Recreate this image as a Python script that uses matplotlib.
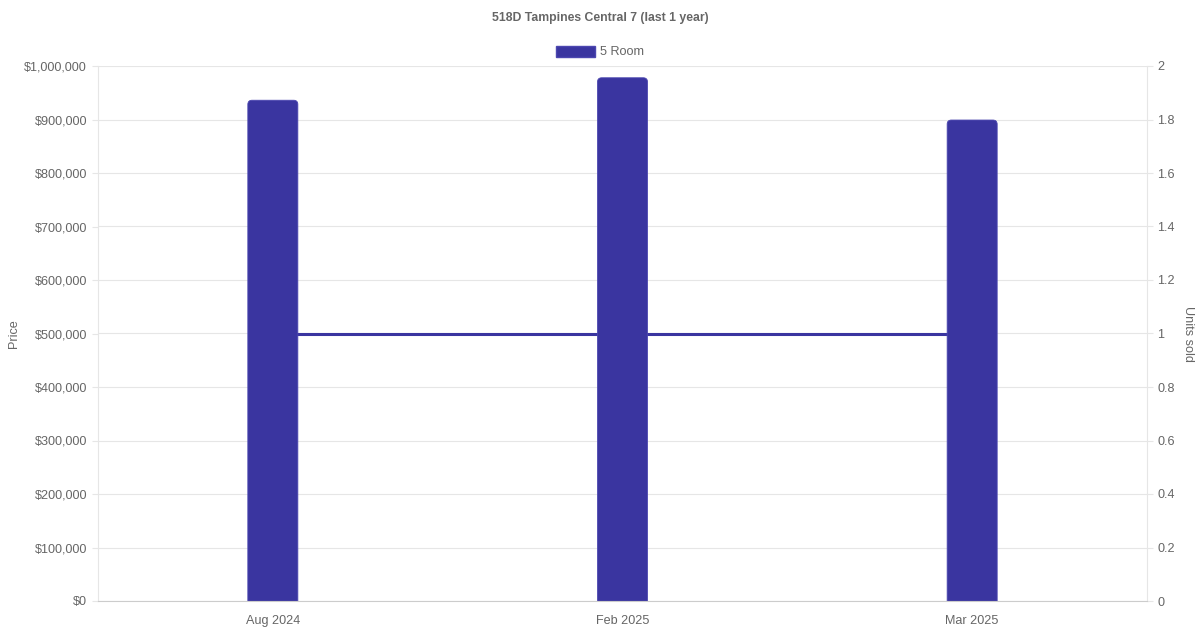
import matplotlib
matplotlib.use('Agg')
import matplotlib.pyplot as plt
from matplotlib.patches import FancyBboxPatch
from matplotlib.ticker import FuncFormatter, MultipleLocator

months = ['Aug 2024', 'Feb 2025', 'Mar 2025']
prices = [936000, 978000, 899000]   # 5 Room, средняя цена
units = [1, 1, 1]                   # продано квартир

bar_col = '#3a35a0'
txt_col = '#666666'
grid_col = '#e6e6e6'

plt.rcParams['font.family'] = ['Liberation Sans', 'DejaVu Sans']
fs = 9.1

fig = plt.figure(figsize=(12, 6.3), dpi=100)
ax = fig.add_axes([98/1200, 1 - 601/630, (1147 - 98)/1200, (601 - 66)/630])
ax2 = ax.twinx()

# бары поверх линии
ax.set_zorder(ax2.get_zorder() + 1)
ax.patch.set_visible(False)

x = [i + 0.5 for i in range(len(months))]
bars = ax.bar(x, prices, width=0.143, color=bar_col)
# скругляем верхние углы
for b in bars:
    bx, by = b.get_x(), b.get_y()
    w, h = b.get_width(), b.get_height()
    b.set_visible(False)
    r = 0.012
    asp = 653600
    p = FancyBboxPatch((bx, by - 20000), w, h + 20000,
                       boxstyle='round,pad=0,rounding_size=%f' % r,
                       mutation_aspect=asp, fc=bar_col, ec='#4c47b0', lw=0.6)
    ax.add_patch(p)

ax2.plot(x, units, color=bar_col, lw=2.2, solid_capstyle='butt')

ax.set_xlim(0, 3)
ax.set_ylim(0, 1000000)
ax2.set_ylim(0, 2)
ax.yaxis.set_major_locator(MultipleLocator(100000))
ax2.yaxis.set_major_locator(MultipleLocator(0.2))
ax.yaxis.set_major_formatter(FuncFormatter(lambda v, p: '${:,.0f}'.format(v)))
ax2.yaxis.set_major_formatter(FuncFormatter(lambda v, p: '{:g}'.format(round(v, 1))))

ax.set_xticks(x)
ax.set_xticklabels(months)
ax2.grid(axis='y', color=grid_col, lw=0.8)
ax2.set_axisbelow(True)

for a in (ax, ax2):
    for s in a.spines.values():
        s.set_visible(False)
ax2.spines['left'].set_visible(True)
ax2.spines['left'].set_color(grid_col)
ax2.spines['right'].set_visible(True)
ax2.spines['right'].set_color(grid_col)
ax.spines['bottom'].set_visible(True)
ax.spines['bottom'].set_color('#cccccc')

ax.tick_params(axis='y', colors=grid_col, labelcolor=txt_col, labelsize=fs, length=4.3, width=0.8, pad=3.6)
ax2.tick_params(axis='y', colors=grid_col, labelcolor=txt_col, labelsize=fs, length=4.3, width=0.8, pad=3.0)
ax.tick_params(axis='x', length=0, labelcolor=txt_col, labelsize=fs, pad=10)

ax.set_ylabel('Price', color=txt_col, fontsize=fs, labelpad=3)
ax2.set_ylabel('Units sold', color=txt_col, fontsize=fs, rotation=270, labelpad=14)

fig.text(0.5, 1 - 18/630, '518D Tampines Central 7 (last 1 year)', ha='center', va='center',
         fontsize=8.8, fontweight='bold', color=txt_col)
fig.legend(handles=[plt.Rectangle((0, 0), 1, 1, fc=bar_col, ec='#4c47b0')], labels=['5 Room'],
           loc='center', bbox_to_anchor=(0.5, 1 - 52/630), frameon=False, fontsize=fs,
           labelcolor=txt_col, handlelength=3.1, handleheight=0.95, handletextpad=0.45)

fig.savefig('out.png', dpi=100, facecolor='white')
